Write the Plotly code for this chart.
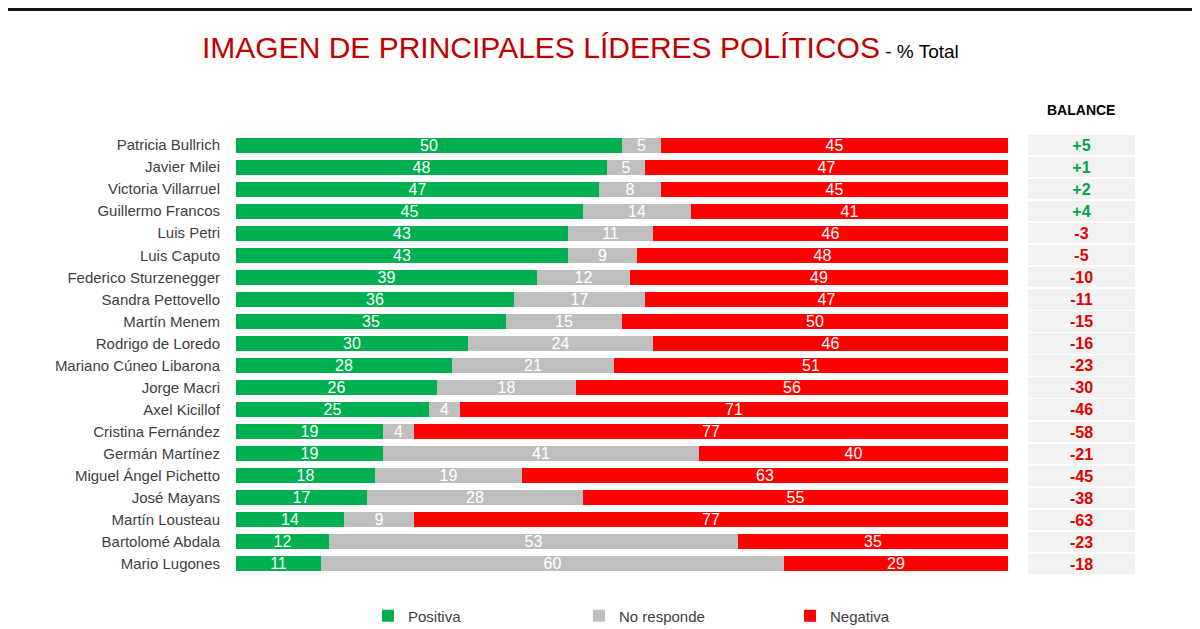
import plotly.graph_objects as go

lideres = ["Patricia Bullrich", "Javier Milei", "Victoria Villarruel", "Guillermo Francos",
           "Luis Petri", "Luis Caputo", "Federico Sturzenegger", "Sandra Pettovello",
           "Martín Menem", "Rodrigo de Loredo", "Mariano Cúneo Libarona", "Jorge Macri",
           "Axel Kicillof", "Cristina Fernández", "Germán Martínez", "Miguel Ángel Pichetto",
           "José Mayans", "Martín Lousteau", "Bartolomé Abdala", "Mario Lugones"]
positiva = [50, 48, 47, 45, 43, 43, 39, 36, 35, 30, 28, 26, 25, 19, 19, 18, 17, 14, 12, 11]
no_responde = [5, 5, 8, 14, 11, 9, 12, 17, 15, 24, 21, 18, 4, 4, 41, 19, 28, 9, 53, 60]
negativa = [45, 47, 45, 41, 46, 48, 49, 47, 50, 46, 51, 56, 71, 77, 40, 63, 55, 77, 35, 29]
balance = [5, 1, 2, 4, -3, -5, -10, -11, -15, -16, -23, -30, -46, -58, -21, -45, -38, -63, -23, -18]

VERDE = "#00B050"
GRIS = "#BFBFBF"
ROJO = "#FF0000"
FUENTE = "Liberation Sans, Arial, sans-serif"

# la página tiene 8px de margen propio, así que todo se corre 8px
ALTO_PLOT = 441
BASE = 567  # borde inferior del área de datos (px de la figura)

fig = go.Figure()

for nombre, valores, color in [("Positiva", positiva, VERDE),
                               ("No responde", no_responde, GRIS),
                               ("Negativa", negativa, ROJO)]:
    fig.add_trace(go.Bar(
        y=lideres, x=valores, name=nombre, orientation="h",
        marker=dict(color=color, line=dict(width=0)),
        width=0.68,
        text=[str(v) for v in valores],
        textposition="inside", insidetextanchor="middle", textangle=0,
        textfont=dict(color="white", size=16, family=FUENTE),
        xaxis="x", yaxis="y",
    ))

# columna de balance
etiquetas = [("<b>+%d</b>" % b) if b > 0 else "<b>%d</b>" % b for b in balance]
colores = ["#00A550" if b > 0 else "#E00000" for b in balance]
fig.add_trace(go.Bar(
    y=lideres, x=[1] * len(lideres), orientation="h",
    marker=dict(color="#F2F2F2", line=dict(width=0)),
    width=0.92,
    text=etiquetas, textposition="inside", insidetextanchor="middle", textangle=0,
    textfont=dict(color=colores, size=16, family=FUENTE),
    xaxis="x2", yaxis="y", showlegend=False, hoverinfo="skip",
))

fig.update_layout(
    width=1200, height=629,
    barmode="stack", bargap=0,
    paper_bgcolor="white", plot_bgcolor="white",
    margin=dict(l=228, r=73, t=126, b=629 - BASE),
    font=dict(family=FUENTE, color="#404040"),
    uniformtext=dict(minsize=16, mode="show"),
    xaxis=dict(domain=[0, 0.8587], range=[0, 100], visible=False, fixedrange=True),
    xaxis2=dict(domain=[0.881, 1.0], range=[0, 1], visible=False, fixedrange=True),
    yaxis=dict(autorange="reversed", showgrid=False, zeroline=False, showline=False,
               ticks="", ticklabelstandoff=15, tickfont=dict(size=15, color="#404040")),
    legend=dict(orientation="h", x=0.1468, xanchor="left",
                yref="container", y=1 - 608 / 629, yanchor="middle",
                entrywidth=166, font=dict(size=15, color="#404040", family=FUENTE),
                traceorder="normal"),
    showlegend=True,
)

fig.add_annotation(
    xref="paper", yref="paper", x=(572 - 228) / 899, y=(BASE - 39) / ALTO_PLOT,
    xanchor="center", yanchor="middle", showarrow=False,
    text="<span style='color:#C00000;font-size:30px'>IMAGEN DE PRINCIPALES LÍDERES POLÍTICOS</span>"
         "<span style='color:#000000;font-size:19px'> - % Total</span>",
    font=dict(family=FUENTE),
)
fig.add_annotation(
    xref="paper", yref="paper", x=(1073 - 228) / 899, y=(BASE - 102) / ALTO_PLOT,
    xanchor="center", yanchor="middle", showarrow=False,
    text="<b>BALANCE</b>", font=dict(size=14, color="#000000", family=FUENTE),
)

# franja oscura superior
fig.add_shape(type="rect", xref="paper", yref="paper",
              x0=-0.27, x1=1.09, y0=(BASE - 3) / ALTO_PLOT, y1=(BASE + 2) / ALTO_PLOT,
              fillcolor="#141414", line=dict(width=0), layer="above")

fig.write_html("out.html")
